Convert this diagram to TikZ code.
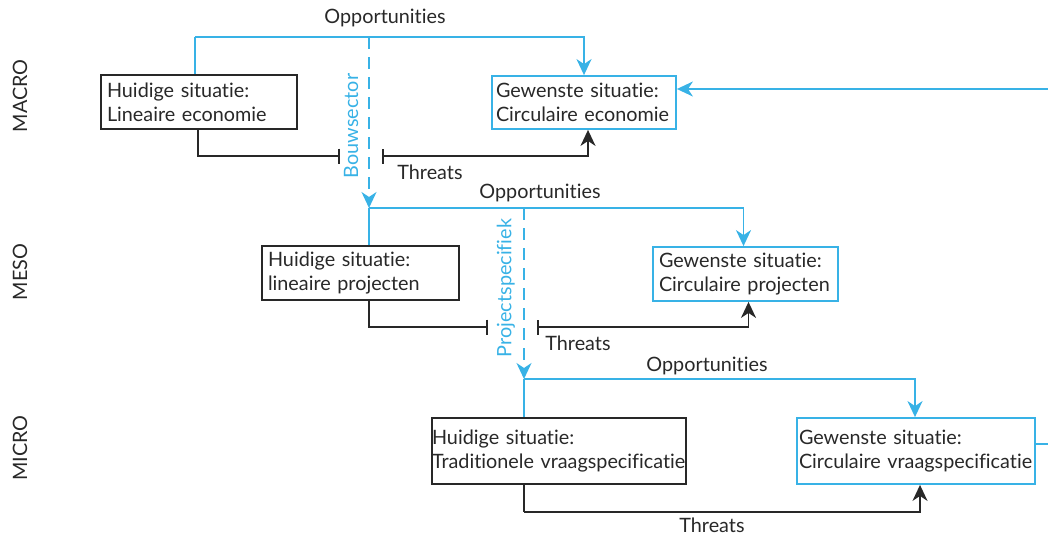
\documentclass[tikz,border=0pt]{standalone}
\usepackage{fontspec}
\setmainfont[Ligatures={NoCommon}]{Lato}
\usetikzlibrary{arrows.meta,calc}
\definecolor{sky}{RGB}{56,178,230}
\definecolor{ink}{RGB}{40,40,40}
\begin{document}
\begin{tikzpicture}[x=1pt,y=-1pt,
  font=\fontsize{19.8}{24}\selectfont, text=ink,
  sit/.style={rectangle, line width=1.8pt, inner xsep=6pt, inner ysep=0pt,
    align=left, anchor=center},
  now/.style={sit, draw=ink},
  goal/.style={sit, draw=sky},
  opp/.style={draw=sky, line width=1.9pt},
  thr/.style={draw=ink, line width=1.9pt},
  dsh/.style={draw=sky, line width=1.9pt, dash pattern=on 12pt off 8pt},
  tip/.style={-{Stealth[length=16pt,width=15pt,inset=5pt]}},
  bar/.style={-{Bar[width=15pt]}},
  barstart/.style={{Bar[width=15pt]}-{Stealth[length=16pt,width=15pt,inset=5pt]}},
  lvl/.style={rotate=90, text=ink},
  lbl/.style={text=ink},
  side/.style={rotate=90, text=sky}]
\useasboundingbox (0,0) rectangle (1048,536);

% level labels
\node[lvl] (lmacro) at (20,96) {MACRO};
\node[lvl] (lmeso) at (20,272) {MESO};
\node[lvl] (lmicro) at (20,448) {MICRO};

% situation boxes
\node[now, minimum width=196pt, minimum height=54pt, text width=184pt] (b1) at (199,102) {Huidige situatie:\\Lineaire economie};
\node[goal, inner xsep=4pt, minimum width=184pt, minimum height=53pt, text width=176pt] (b2) at (584,102.5) {Gewenste situatie:\\Circulaire economie};
\node[now, minimum width=197pt, minimum height=54pt, text width=185pt] (b3) at (360.5,273) {Huidige situatie:\\lineaire projecten};
\node[goal, minimum width=185pt, minimum height=54pt, text width=173pt] (b4) at (745.5,274) {Gewenste situatie:\\Circulaire projecten};
\node[now, inner xsep=0pt, minimum width=254pt, minimum height=66pt, text width=254pt] (b5) at (559,451) {Huidige situatie:\\Traditionele vraagspecificatie};
\node[goal, inner xsep=2pt, minimum width=238pt, minimum height=66pt, text width=234pt] (b6) at (916,451) {Gewenste situatie:\\Circulaire vraagspecificatie};

% junctions and free ends
\coordinate (j1) at (195,37);
\coordinate (d1) at (369,37);
\coordinate (m2) at (369,208);
\coordinate (m3) at (524,379);
\coordinate (t1a) at (340,156);
\coordinate (t1b) at (382,156);
\coordinate (t2a) at (488,327);
\coordinate (t2b) at (537,327);
\coordinate (t3) at (524,512);
\coordinate (r1) at (1048,89);
\coordinate (r2) at (1048,444);

% macro level
\draw[opp] (b1.north -| j1) -- (j1);
\draw[opp,tip] (j1) -| (b2.north);
\draw[dsh,tip] (d1) -- (m2);
\draw[thr,bar] ([xshift=-1pt]b1.south) |- (t1a);
\draw[thr,barstart] (t1b) -| ([xshift=4pt]b2.south);
\draw[opp,tip] (r1) -- (r1 -| b2.east);

% meso level
\draw[opp] (m2) -- (m2 |- b3.north);
\draw[opp,tip] (m2) -| ([xshift=-2pt]b4.north);
\draw[dsh,tip] (m2 -| m3) -- (m3);
\draw[thr,bar] (m2 |- b3.south) |- (t2a);
\draw[thr,barstart] (t2b) -| ([xshift=3pt]b4.south);

% micro level
\draw[opp] (m3) -- (m3 |- b5.north);
\draw[opp,tip] (m3) -| ([xshift=-1pt]b6.north);
\draw[thr] (m3 |- b5.south) -- (t3);
\draw[thr,tip] (t3) -| ([xshift=4pt]b6.south);
\draw[opp] (b6.east |- r2) -- (r2);

% connector labels
\node[lbl] (o1) at (385,18) {Opportunities};
\node[lbl] (o2) at (540,193) {Opportunities};
\node[lbl] (o3) at (707,366) {Opportunities};
\node[lbl] (th1) at (430,172) {Threats};
\node[lbl] (th2) at (578,343) {Threats};
\node[lbl] (th3) at (712,525) {Threats};
\node[side] (s1) at (351,126) {Bouwsector};
\node[side] (s2) at (506,288) {Projectspecifiek};
\end{tikzpicture}
\end{document}
